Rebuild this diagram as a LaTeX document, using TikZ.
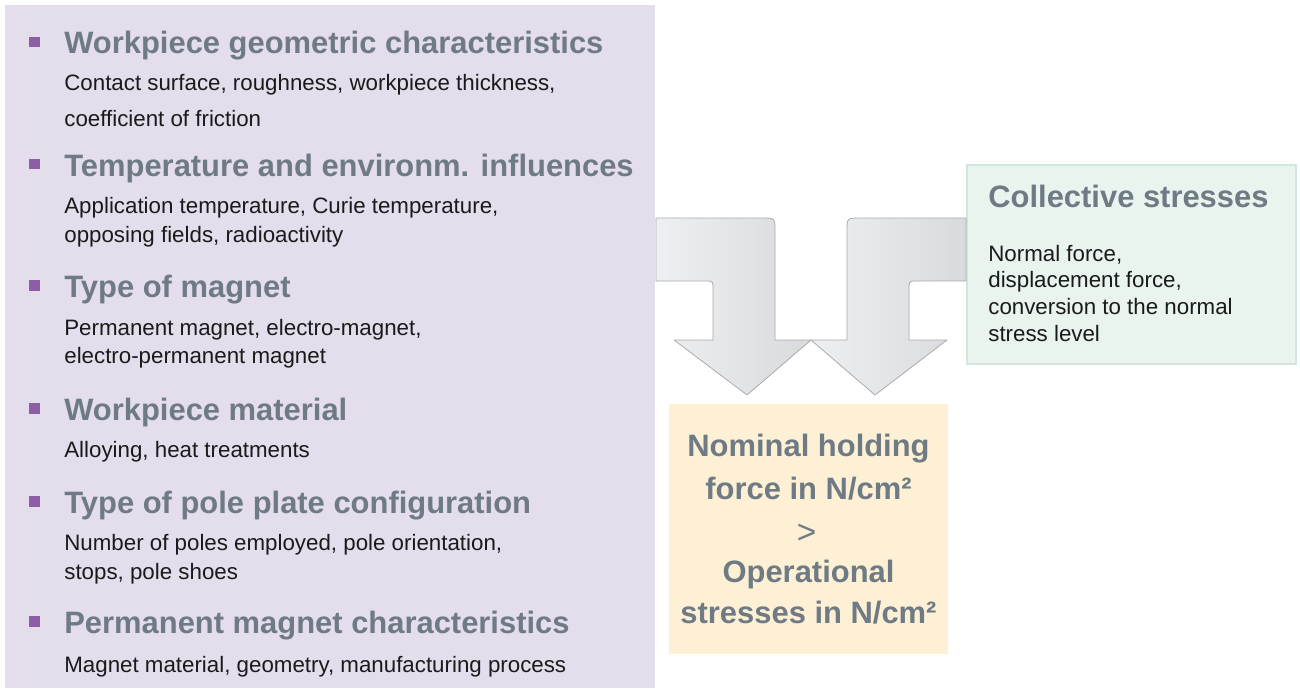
\documentclass[tikz,border=0pt]{standalone}
\usepackage{fontspec}
\setmainfont{Liberation Sans}
\usepackage{xcolor}
\usepackage{tikz}
\usetikzlibrary{positioning,calc}

\definecolor{panelbg}{HTML}{E4DEEC}
\definecolor{bulletcol}{HTML}{8B5EA6}
\definecolor{headgray}{HTML}{6E7A84}
\definecolor{bodyink}{HTML}{1A1A1A}
\definecolor{creambg}{HTML}{FDF0D4}
\definecolor{mintbg}{HTML}{EAF4EF}
\definecolor{mintline}{HTML}{CFE8DB}
\definecolor{arrowlight}{HTML}{EEEFF1}
\definecolor{arrowdark}{HTML}{D9DADD}
\definecolor{arrowline}{HTML}{A9AAAC}

\begin{document}
\begin{tikzpicture}[x=0.02cm, y=-0.02cm,
    head/.style={anchor=base west, inner sep=0pt, text=headgray,
      font=\fontsize{17.6}{20}\selectfont\bfseries},
    body/.style={anchor=base west, inner sep=0pt, text=bodyink,
      font=\fontsize{12.7}{15}\selectfont},
    result/.style={anchor=base, inner sep=0pt, text=headgray,
      font=\fontsize{17.6}{20}\selectfont\bfseries},
    bendarrow/.style={draw=arrowline, line width=0.45pt, line join=round,
      left color=arrowlight, right color=arrowdark}]
  % canvas in pixels: 1300 x 689, y grows downwards
  \useasboundingbox (0,0) rectangle (1300,689);
  % background boxes
  \fill[panelbg] (5,5) rectangle (655,688);
  \fill[creambg] (669,404) rectangle (948,654);
  \draw[mintline, line width=0.8pt, fill=mintbg] (967,165) rectangle (1296,364);
  % bullets, about 11px above each heading baseline
  \foreach \b in {54,176,297,420,513,633} {
    \fill[bulletcol] (29,{\b-17}) rectangle (39.5,{\b-6.5});
  }
  % influence factors (left panel)
  \node[head] (geo) at (64,54) {Workpiece geometric characteristics};
  \node[body] (geoa) at (64,91) {Contact surface, roughness, workpiece thickness,};
  \node[body] (geob) at (64,127) {coefficient of friction};
  \node[head] (temp) at (64,176) {Temperature and environm. influences};
  \node[body] (tempa) at (64,214) {Application temperature, Curie temperature,};
  \node[body] (tempb) at (64,242) {opposing fields, radioactivity};
  \node[head] (mag) at (64,297) {Type of magnet};
  \node[body] (maga) at (64,335) {Permanent magnet, electro-magnet,};
  \node[body] (magb) at (64,363) {electro-permanent magnet};
  \node[head] (mat) at (64,420) {Workpiece material};
  \node[body] (mata) at (64,457) {Alloying, heat treatments};
  \node[head] (pole) at (64,513) {Type of pole plate configuration};
  \node[body] (polea) at (64,550) {Number of poles employed, pole orientation,};
  \node[body] (poleb) at (64,579) {stops, pole shoes};
  \node[head] (perm) at (64,633) {Permanent magnet characteristics};
  \node[body] (perma) at (64,672) {Magnet material, geometry, manufacturing process};
  % collective stresses (right box)
  \node[head] (coll) at (988,207) {Collective stresses};
  \node[body] (colla) at (988,261) {Normal force,};
  \node[body] (collb) at (988,287) {displacement force,};
  \node[body] (collc) at (988,314) {conversion to the normal};
  \node[body] (colld) at (988,341) {stress level};
  % result (cream box)
  \node[result] (noma) at (808.5,456) {Nominal holding};
  \node[result] (nomb) at (808.5,499) {force in N/cm²};
  \node[result, font=\fontsize{19}{20}\selectfont] (gt) at (806.5,543) {>};
  \node[result] (opa) at (808.5,582) {Operational};
  \node[result] (opb) at (808.5,623) {stresses in N/cm²};
  % bent arrows into the result box
  \path[bendarrow] (656,218) -- (762,218) .. controls (775,218) .. (775,231)
    -- (775,340) -- (811,340) -- (747,395) -- (674,340) -- (713,340)
    -- (713,289) .. controls (713,281) .. (705,281) -- (656,281) -- cycle;
  \path[bendarrow] (966,218) -- (860,218) .. controls (847,218) .. (847,231)
    -- (847,340) -- (811,340) -- (875,395) -- (947,340) -- (909,340)
    -- (909,289) .. controls (909,281) .. (917,281) -- (966,281) -- cycle;
\end{tikzpicture}
\end{document}
